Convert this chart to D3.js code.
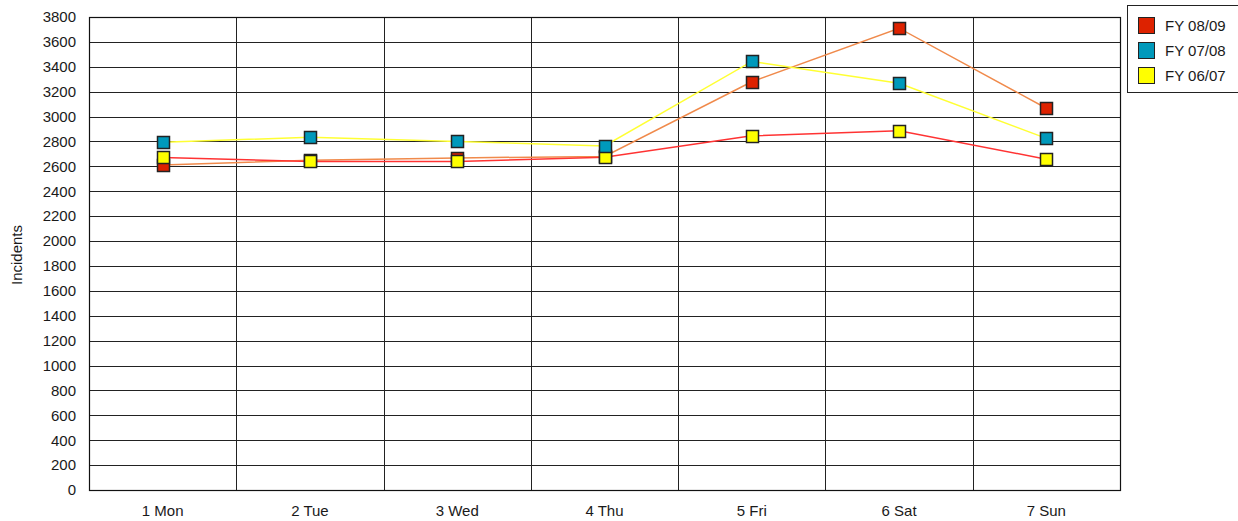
<!DOCTYPE html>
<html><head><meta charset="utf-8">
<script src="https://cdn.jsdelivr.net/npm/d3@7"></script>
<style>body{margin:0;background:#fff}svg{display:block;font-family:"Liberation Sans",Arial,sans-serif}</style>
</head><body><svg id="c" width="1238" height="521"></svg>
<script>
const categories = ["1 Mon","2 Tue","3 Wed","4 Thu","5 Fri","6 Sat","7 Sun"];
const seriesNames = ["FY 08/09","FY 07/08","FY 06/07"];
const fy0809 = [2610,2650,2668,2680,3280,3710,3067];
const fy0708 = [2793,2834,2800,2764,3443,3268,2825];
const fy0607 = [2672,2640,2640,2673,2845,2886,2658];
const yTicks = d3.range(0,3801,200);
const markerColors = ["#dd2200","#0099bb","#ffff00"];
const lineColors = ["#f08a4b","#ffff33","#ff3333"];

const series = [fy0809, fy0708, fy0607];
const svg = d3.select("#c");
const L=89,R=1120,T=17,B=490;
const FS = 15;
const x = d3.scaleBand().domain(categories).range([L,R]);
const y = d3.scaleLinear().domain([0,3800]).range([B,T]);

svg.append("g").selectAll("line").data(yTicks).join("line")
  .attr("x1",L).attr("x2",R).attr("y1",d=>Math.round(y(d))+0.5).attr("y2",d=>Math.round(y(d))+0.5)
  .attr("stroke","#222").attr("stroke-width",1);
svg.append("g").selectAll("line").data(categories.slice(1)).join("line")
  .attr("x1",d=>Math.round(x(d))+0.5).attr("x2",d=>Math.round(x(d))+0.5).attr("y1",T).attr("y2",B)
  .attr("stroke","#222").attr("stroke-width",1);
svg.append("rect").attr("x",L+0.5).attr("y",T+0.5).attr("width",R-L).attr("height",B-T)
  .attr("fill","none").attr("stroke","#111").attr("stroke-width",1.2);

const yAxis = d3.axisLeft(y).tickValues(yTicks).tickFormat(d3.format("d")).tickSize(0).tickPadding(13);
const ga = svg.append("g").attr("transform",`translate(${L},0)`).call(yAxis);
ga.select(".domain").remove();
ga.selectAll("text").attr("font-size",FS).attr("fill","#1a1a1a").attr("font-family","Liberation Sans, Arial, sans-serif");

const xAxis = d3.axisBottom(x).tickSize(0).tickPadding(15);
const gx = svg.append("g").attr("transform",`translate(0,${B})`).call(xAxis);
gx.select(".domain").remove();
gx.selectAll("text").attr("font-size",FS).attr("fill","#1a1a1a").attr("font-family","Liberation Sans, Arial, sans-serif");

svg.append("text").attr("transform","translate(22,255) rotate(-90)").attr("text-anchor","middle")
  .attr("font-size",FS).attr("fill","#1a1a1a").text("Incidents");

const cx = d => x(d)+x.bandwidth()/2;
const line = d3.line().x((v,i)=>cx(categories[i])).y(v=>y(v));
series.forEach((s,k)=>{
  svg.append("path").datum(s).attr("d",line).attr("fill","none")
    .attr("stroke",lineColors[k]).attr("stroke-width",1.5);
});
[0,2,1].forEach(k=>{
  svg.append("g").selectAll("rect").data(series[k]).join("rect")
    .attr("x",(v,i)=>Math.round(cx(categories[i]))-6+0.5).attr("y",v=>Math.round(y(v))-6+0.5)
    .attr("width",12).attr("height",12).attr("fill",markerColors[k])
    .attr("stroke","#222").attr("stroke-width",1.5);
});

const lg = svg.append("g");
lg.append("rect").attr("x",1127.5).attr("y",5.5).attr("width",112).attr("height",87)
  .attr("fill","#fff").attr("stroke","#222").attr("stroke-width",1);
seriesNames.forEach((n,k)=>{
  lg.append("rect").attr("x",1138.5).attr("y",17.5+k*25).attr("width",16).attr("height",16)
    .attr("fill",markerColors[k]).attr("stroke","#222").attr("stroke-width",1);
  lg.append("text").attr("x",1165).attr("y",31+k*25).attr("font-size",FS).attr("fill","#1a1a1a").text(n);
});
</script></body></html>
